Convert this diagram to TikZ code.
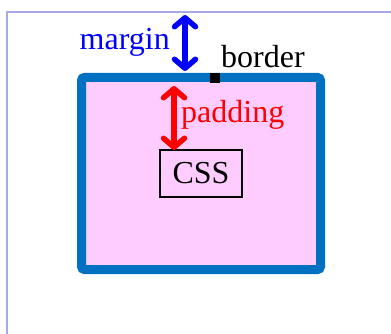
\documentclass[tikz,border=0pt]{standalone}
\usepackage{fontspec}
\setmainfont{Liberation Serif}
\usetikzlibrary{positioning,arrows.meta}
\definecolor{framelilac}{HTML}{A8A8E8}
\definecolor{borderblue}{HTML}{0070C0}
\definecolor{boxpink}{HTML}{FFCCFF}

\tikzset{
	lbl/.style={font=\fontsize{32}{32}\selectfont, inner sep=0pt},
	gap/.style={line width=5.5pt, line cap=round,
		{Straight Barb[length=9pt,width=21pt,round]}-{Straight Barb[length=9pt,width=21pt,round]}}
}

\begin{document}
\begin{tikzpicture}[x=1pt,y=-1pt]
	\useasboundingbox (0,0) rectangle (391,334);
	\draw[framelilac, line width=1.5pt] (7,334) -- (7,12) -- (391,12);
	\node[draw=borderblue, fill=boxpink, line width=9pt, rounded corners=3pt, inner sep=0pt,
		minimum width=239pt, minimum height=192pt] (box) at (201,173.5) {};
	\node[draw, line width=2pt, inner sep=0pt, minimum width=82pt, minimum height=47pt, lbl] (css) at (201,173.5) {CSS};
	\node[fill=black, inner sep=0pt, minimum size=10pt] (bordermark) at (215,78) {};
	\coordinate (mtop) at (185,15);
	\coordinate (mbot) at (185,71);
	\coordinate (ptop) at (174,86);
	\coordinate (pbot) at (174,150);
	\draw[gap, blue] (mtop) -- (mbot);
	\draw[gap, red] (ptop) -- (pbot);
	\node[lbl, blue, anchor=base east] (margin) at (170,50) {margin};
	\node[lbl, anchor=base west] (border) at (221,68) {border};
	\node[lbl, red, anchor=base west] (padding) at (181,123) {padding};
\end{tikzpicture}
\end{document}
